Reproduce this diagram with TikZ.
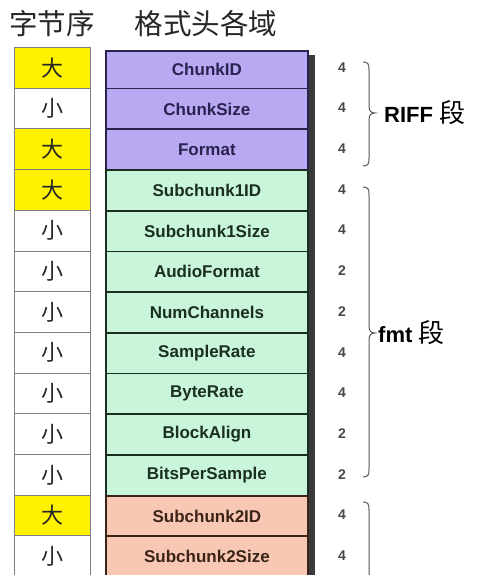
\documentclass[tikz,border=0pt]{standalone}
\usepackage{fontspec}
\setmainfont{Liberation Sans}
\newfontfamily\cjk{Noto Sans CJK SC}
\definecolor{yelc}{HTML}{FFF200}
\definecolor{purc}{HTML}{B8A9F2}
\definecolor{purd}{HTML}{2A2250}
\definecolor{grnc}{HTML}{C9F5DA}
\definecolor{grnd}{HTML}{1B2E22}
\definecolor{salc}{HTML}{F8C8B4}
\definecolor{sald}{HTML}{3A2418}
\definecolor{cellb}{HTML}{7F7F7F}
\definecolor{shadc}{HTML}{3A3A3A}
\definecolor{bracec}{HTML}{555555}
\begin{document}
\begin{tikzpicture}[x=1pt,y=-1pt,
  cell/.style={draw=cellb, line width=1pt, minimum width=76pt, minimum height=40.7pt,
    anchor=north west, inner sep=0pt, font=\cjk\fontsize{22}{22}\selectfont, text=black!85},
  bigc/.style={fill=yelc},
  smallc/.style={fill=white},
  field/.style={line width=1.8pt, minimum width=202pt, anchor=north west, inner sep=0pt,
    font=\bfseries\fontsize{17}{17}\selectfont},
  riff/.style={fill=purc, draw=purd, text=purd},
  fmt/.style={fill=grnc, draw=grnd, text=grnd},
  dat/.style={fill=salc, draw=sald, text=sald},
  num/.style={font=\bfseries\fontsize{14}{14}\selectfont, text=black!72, inner sep=0pt},
  head/.style={font=\cjk\fontsize{28.5}{28.5}\selectfont, text=black!85, inner sep=0pt},
  seg/.style={font=\bfseries\fontsize{22}{22}\selectfont, text=black, inner sep=0pt, anchor=west},
  bline/.style={draw=bracec, line width=1pt}]
\useasboundingbox (0,0) rectangle (500,575);
\clip (0,0) rectangle (500,575);
% headers
\node[head] (h1) at (52,24) {字节序};
\node[head] (h2) at (206,24) {格式头各域};
% shadow of the field column
\fill[shadc] (307,55) rectangle (315,590);
% rows
\foreach \i/\bs/\ch/\lab/\grp/\n in {
  0/bigc/大/ChunkID/riff/4,
  1/smallc/小/ChunkSize/riff/4,
  2/bigc/大/Format/riff/4,
  3/bigc/大/Subchunk1ID/fmt/4,
  4/smallc/小/Subchunk1Size/fmt/4,
  5/smallc/小/AudioFormat/fmt/2,
  6/smallc/小/NumChannels/fmt/2,
  7/smallc/小/SampleRate/fmt/4,
  8/smallc/小/ByteRate/fmt/4,
  9/smallc/小/BlockAlign/fmt/2,
  10/smallc/小/BitsPerSample/fmt/2,
  11/bigc/大/Subchunk2ID/dat/4,
  12/smallc/小/Subchunk2Size/dat/4}{
  \pgfmathsetmacro\yt{47+40.7*\i}
  \pgfmathsetmacro\yb{\yt+40.7}
  \pgfmathsetmacro\ft{ifthenelse(\i==0,50,\yt)}
  \pgfmathsetmacro\fh{\yb-\ft}
  \pgfmathsetmacro\yc{\yt+20.35}
  \node[cell, \bs] (l\i) at (14,\yt) {\ch};
  \node[field, \grp, minimum height=\fh pt] (f\i) at (105,\ft) {\lab};
  \node[num] (n\i) at (342,\yc) {\n};
}
% braces
\draw[bline] (363,62) .. controls (368,62) and (369,64) .. (369,70) -- (369,106)
  .. controls (369,111) and (371,113) .. (375,113)
  .. controls (371,113) and (369,115) .. (369,120) -- (369,158)
  .. controls (369,164) and (368,166) .. (363,166);
\draw[bline] (363,187) .. controls (368,187) and (369,189) .. (369,195) -- (369,326)
  .. controls (369,331) and (371,333) .. (375,333)
  .. controls (371,333) and (369,335) .. (369,340) -- (369,469)
  .. controls (369,475) and (368,477) .. (363,477);
\draw[bline] (363,502) .. controls (368,502) and (369,504) .. (369,510) -- (369,590);
% segment labels
\node[seg] (sriff) at (384,113) {RIFF\hspace{6pt}{\cjk\mdseries\fontsize{26}{26}\selectfont 段}};
\node[seg] (sfmt) at (378,333) {fmt\hspace{6pt}{\cjk\mdseries\fontsize{26}{26}\selectfont 段}};
\end{tikzpicture}
\end{document}
